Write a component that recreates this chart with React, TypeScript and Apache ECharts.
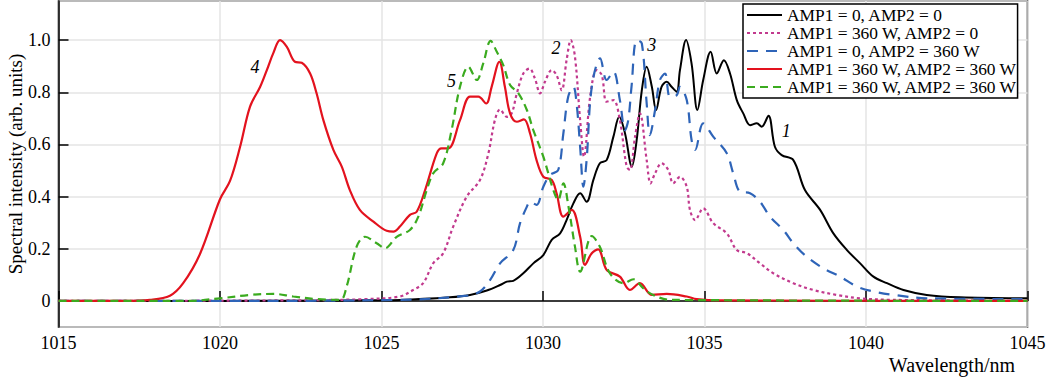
import React, { useEffect, useRef } from "react";
import * as echarts from "echarts";

const FONT = "'Liberation Serif', 'Times New Roman', serif";

const names = [
  "AMP1 = 0, AMP2 = 0",
  "AMP1 = 360 W, AMP2 = 0",
  "AMP1 = 0, AMP2 = 360 W",
  "AMP1 = 360 W, AMP2 = 360 W",
  "AMP1 = 360 W, AMP2 = 360 W ",
];

const wl1 = [1015, 1020, 1024, 1025.57, 1027.12, 1027.74, 1028.26, 1028.67, 1028.88, 1029.08, 1029.39, 1029.7, 1030.01, 1030.27, 1030.53, 1030.73, 1030.94, 1031.15, 1031.35, 1031.56, 1031.76, 1031.97, 1032.18, 1032.36, 1032.54, 1032.75, 1032.9, 1033.06, 1033.21, 1033.37, 1033.5, 1033.67, 1033.83, 1033.98, 1034.14, 1034.24, 1034.43, 1034.6, 1034.78, 1034.96, 1035.19, 1035.38, 1035.6, 1035.79, 1036.0, 1036.2, 1036.41, 1036.62, 1036.77, 1036.98, 1037.18, 1037.39, 1037.75, 1038.11, 1038.58, 1038.99, 1039.41, 1039.82, 1040.23, 1040.65, 1041.16, 1041.88, 1042.91, 1045];
const int1 = [0, 0, 0.002, 0.004, 0.014, 0.023, 0.04, 0.061, 0.074, 0.077, 0.106, 0.144, 0.176, 0.234, 0.259, 0.31, 0.374, 0.413, 0.38, 0.464, 0.528, 0.54, 0.63, 0.706, 0.642, 0.515, 0.617, 0.808, 0.898, 0.821, 0.732, 0.821, 0.84, 0.821, 0.802, 0.885, 1.0, 0.91, 0.732, 0.847, 0.955, 0.872, 0.923, 0.872, 0.77, 0.719, 0.674, 0.681, 0.668, 0.71, 0.591, 0.559, 0.54, 0.425, 0.349, 0.259, 0.195, 0.144, 0.093, 0.068, 0.042, 0.023, 0.014, 0.01];

const wl2 = [1015, 1020, 1023, 1024.5, 1025.57, 1025.98, 1026.29, 1026.6, 1026.91, 1027.22, 1027.64, 1028.05, 1028.31, 1028.51, 1028.67, 1028.88, 1029.03, 1029.19, 1029.39, 1029.58, 1029.75, 1029.91, 1030.06, 1030.27, 1030.42, 1030.58, 1030.73, 1030.86, 1030.99, 1031.15, 1031.27, 1031.46, 1031.66, 1031.82, 1031.97, 1032.18, 1032.38, 1032.59, 1032.69, 1032.85, 1033.0, 1033.21, 1033.33, 1033.47, 1033.67, 1033.88, 1034.03, 1034.24, 1034.45, 1034.55, 1034.71, 1034.96, 1035.27, 1035.69, 1036.0, 1036.31, 1036.72, 1037.13, 1037.75, 1038.37, 1039.09, 1039.81, 1040.83, 1045];
const int2 = [0, 0.001, 0.003, 0.007, 0.017, 0.042, 0.068, 0.144, 0.183, 0.285, 0.4, 0.464, 0.566, 0.693, 0.734, 0.706, 0.719, 0.796, 0.872, 0.891, 0.853, 0.796, 0.84, 0.885, 0.866, 0.808, 0.923, 1.0, 0.936, 0.693, 0.553, 0.783, 0.885, 0.866, 0.764, 0.77, 0.693, 0.515, 0.502, 0.63, 0.719, 0.54, 0.451, 0.489, 0.528, 0.502, 0.451, 0.476, 0.438, 0.349, 0.31, 0.355, 0.298, 0.259, 0.195, 0.183, 0.144, 0.106, 0.068, 0.042, 0.023, 0.01, 0.004, 0];

const wl3 = [1015, 1020, 1025.57, 1027.64, 1028.05, 1028.36, 1028.67, 1029.08, 1029.29, 1029.5, 1029.6, 1029.8, 1030.01, 1030.22, 1030.47, 1030.63, 1030.78, 1030.94, 1031.04, 1031.15, 1031.25, 1031.35, 1031.51, 1031.77, 1031.97, 1032.18, 1032.38, 1032.54, 1032.64, 1032.74, 1032.9, 1033.06, 1033.21, 1033.31, 1033.47, 1033.62, 1033.78, 1033.93, 1034.14, 1034.24, 1034.45, 1034.6, 1034.71, 1034.96, 1035.27, 1035.69, 1035.89, 1036.1, 1036.41, 1036.72, 1037.03, 1037.44, 1037.75, 1038.16, 1038.68, 1039.2, 1039.72, 1040.23, 1040.85, 1041.88, 1045];
const int3 = [0, 0, 0.004, 0.02, 0.036, 0.08, 0.144, 0.195, 0.298, 0.361, 0.38, 0.368, 0.438, 0.483, 0.502, 0.642, 0.783, 0.821, 0.757, 0.591, 0.438, 0.54, 0.821, 0.93, 0.847, 0.879, 0.77, 0.655, 0.693, 0.821, 1.0, 0.987, 0.757, 0.636, 0.732, 0.847, 0.872, 0.783, 0.789, 0.821, 0.77, 0.617, 0.579, 0.681, 0.63, 0.566, 0.489, 0.419, 0.413, 0.38, 0.323, 0.272, 0.221, 0.17, 0.125, 0.093, 0.055, 0.036, 0.023, 0.01, 0.007];

const wl4 = [1015, 1017.0, 1017.83, 1018.45, 1018.86, 1019.38, 1020.0, 1020.31, 1020.62, 1020.93, 1021.24, 1021.45, 1021.65, 1021.86, 1022.07, 1022.32, 1022.53, 1022.79, 1022.99, 1023.2, 1023.51, 1023.77, 1024.02, 1024.33, 1024.75, 1025.16, 1025.37, 1025.57, 1025.88, 1026.09, 1026.35, 1026.71, 1026.86, 1027.07, 1027.43, 1027.74, 1028.0, 1028.24, 1028.41, 1028.65, 1028.82, 1028.98, 1029.19, 1029.41, 1029.6, 1029.8, 1030.01, 1030.27, 1030.42, 1030.63, 1030.89, 1031.15, 1031.3, 1031.51, 1031.71, 1031.97, 1032.38, 1032.69, 1033.0, 1033.37, 1033.83, 1034.45, 1034.76, 1035.5, 1045];
const int4 = [0, 0, 0.004, 0.02, 0.068, 0.18, 0.39, 0.46, 0.59, 0.745, 0.82, 0.885, 0.95, 1.0, 0.974, 0.917, 0.913, 0.872, 0.796, 0.693, 0.579, 0.515, 0.425, 0.349, 0.304, 0.269, 0.266, 0.285, 0.33, 0.342, 0.425, 0.566, 0.585, 0.585, 0.693, 0.783, 0.783, 0.757, 0.821, 0.917, 0.821, 0.719, 0.687, 0.696, 0.642, 0.54, 0.476, 0.464, 0.413, 0.323, 0.349, 0.246, 0.138, 0.183, 0.198, 0.119, 0.093, 0.042, 0.068, 0.023, 0.027, 0.017, 0.007, 0.002, 0];

const wl5 = [1015, 1019, 1020.0, 1020.93, 1021.65, 1022.27, 1022.99, 1023.72, 1023.92, 1024.23, 1024.49, 1024.85, 1025.11, 1025.47, 1025.88, 1026.14, 1026.4, 1026.6, 1026.91, 1027.17, 1027.43, 1027.69, 1027.95, 1028.15, 1028.38, 1028.57, 1028.77, 1028.98, 1029.24, 1029.5, 1029.7, 1030.01, 1030.32, 1030.47, 1030.63, 1030.79, 1030.99, 1031.15, 1031.51, 1031.76, 1032.07, 1032.49, 1032.8, 1033.1, 1033.41, 1033.93, 1045];
const int5 = [0, 0, 0.01, 0.023, 0.027, 0.017, 0.007, 0.004, 0.055, 0.208, 0.246, 0.221, 0.202, 0.246, 0.272, 0.323, 0.425, 0.489, 0.528, 0.655, 0.821, 0.898, 0.847, 0.911, 0.997, 0.955, 0.904, 0.828, 0.796, 0.732, 0.655, 0.553, 0.425, 0.387, 0.451, 0.361, 0.208, 0.112, 0.249, 0.208, 0.106, 0.068, 0.083, 0.049, 0.023, 0.004, 0];

const curveLabels = ["1", "2", "3", "4", "5"];
const labelX = [1037.53, 1030.4, 1033.37, 1021.08, 1027.17];
const labelY = [0.651, 0.969, 0.981, 0.897, 0.844];

const colors = ["#000000", "#c23a8e", "#2e64b8", "#e3121e", "#3bab1f"];
const dashes: any[] = ["solid", [3, 3], [11, 8], "solid", [8, 5]];
const widths = [2, 2.2, 2.2, 2.2, 2.2];

const wls = [wl1, wl2, wl3, wl4, wl5];
const ints = [int1, int2, int3, int4, int5];

export default function App() {
  const ref = useRef<HTMLDivElement>(null);
  useEffect(() => {
    if (!ref.current) return;
    const chart = echarts.init(ref.current, undefined, { renderer: "svg" });
    const series = names.map((name, i) => ({
      name,
      type: "line",
      data: wls[i].map((x, j) => [x, ints[i][j]]),
      showSymbol: false,
      symbol: "none",
      smooth: 0.35,
      lineStyle: { color: colors[i], width: widths[i], type: dashes[i] },
      itemStyle: { color: colors[i] },
      markPoint: {
        symbol: "circle",
        symbolSize: 0,
        silent: true,
        label: {
          show: true,
          formatter: curveLabels[i],
          color: "#000",
          fontStyle: "italic",
          fontFamily: FONT,
          fontSize: 18,
        },
        data: [{ coord: [labelX[i], labelY[i]] }],
      },
    }));
    chart.setOption({
      animation: false,
      grid: {
        left: 58.5,
        right: 18.5,
        top: 1,
        bottom: 50,
        containLabel: false,
        outerBoundsMode: "none",
        show: true,
        borderColor: "#000",
        borderWidth: 1.5,
        backgroundColor: "transparent",
      },
      legend: {
        orient: "vertical",
        left: 743,
        top: 4,
        padding: [2, 0, 2, 3],
        itemGap: 0,
        itemWidth: 35,
        itemHeight: 10,
        backgroundColor: "#fff",
        borderColor: "#000",
        borderWidth: 1.5,
        borderRadius: 0,
        data: names,
        itemStyle: { opacity: 0 },
        formatter: (n: string) => n.trim(),
        textStyle: {
          fontFamily: FONT,
          fontSize: 17.4,
          color: "#000",
          lineHeight: 18,
        },
      },
      graphic: [
        {
          type: "text",
          right: 31,
          top: 355,
          style: {
            text: "Wavelength/nm",
            font: `20px ${FONT}`,
            fill: "#000",
          },
        },
      ],
      xAxis: {
        type: "value",
        min: 1015,
        max: 1045,
        interval: 5,
        axisLine: { show: true, lineStyle: { color: "#000", width: 1.5 } },
        axisTick: { show: true, inside: true, length: 10, lineStyle: { color: "#000", width: 1.5 } },
        axisLabel: {
          fontFamily: FONT,
          fontSize: 18,
          color: "#000",
          margin: 7,
          formatter: (v: number) => String(v),
        },
        splitLine: { show: true, lineStyle: { color: "#e4e4e4", width: 1.5 } },
      },
      yAxis: {
        type: "value",
        min: -0.1,
        max: 1.15,
        splitNumber: 6,
        name: "Spectral intensity (arb. units)",
        nameLocation: "middle",
        nameGap: 34,
        nameMoveOverlap: false,
        nameTextStyle: { fontFamily: FONT, fontSize: 19, color: "#000" },
        axisLine: { show: true, lineStyle: { color: "#000", width: 1.5 } },
        axisTick: { show: true, inside: true, length: 10, lineStyle: { color: "#000", width: 1.5 } },
        axisLabel: {
          fontFamily: FONT,
          fontSize: 18,
          color: "#000",
          margin: 8,
          showMinLabel: false,
          showMaxLabel: false,
          formatter: (v: number) => (Math.abs(v) < 1e-9 ? "0" : v.toFixed(1)),
        },
        splitLine: { show: true, lineStyle: { color: "#e4e4e4", width: 1.5 } },
      },
      series,
    });
    return () => chart.dispose();
  }, []);
  return (
    <div
      ref={ref}
      style={{ position: "fixed", left: 0, top: 0, width: 1046, height: 377, background: "#fff" }}
    />
  );
}
